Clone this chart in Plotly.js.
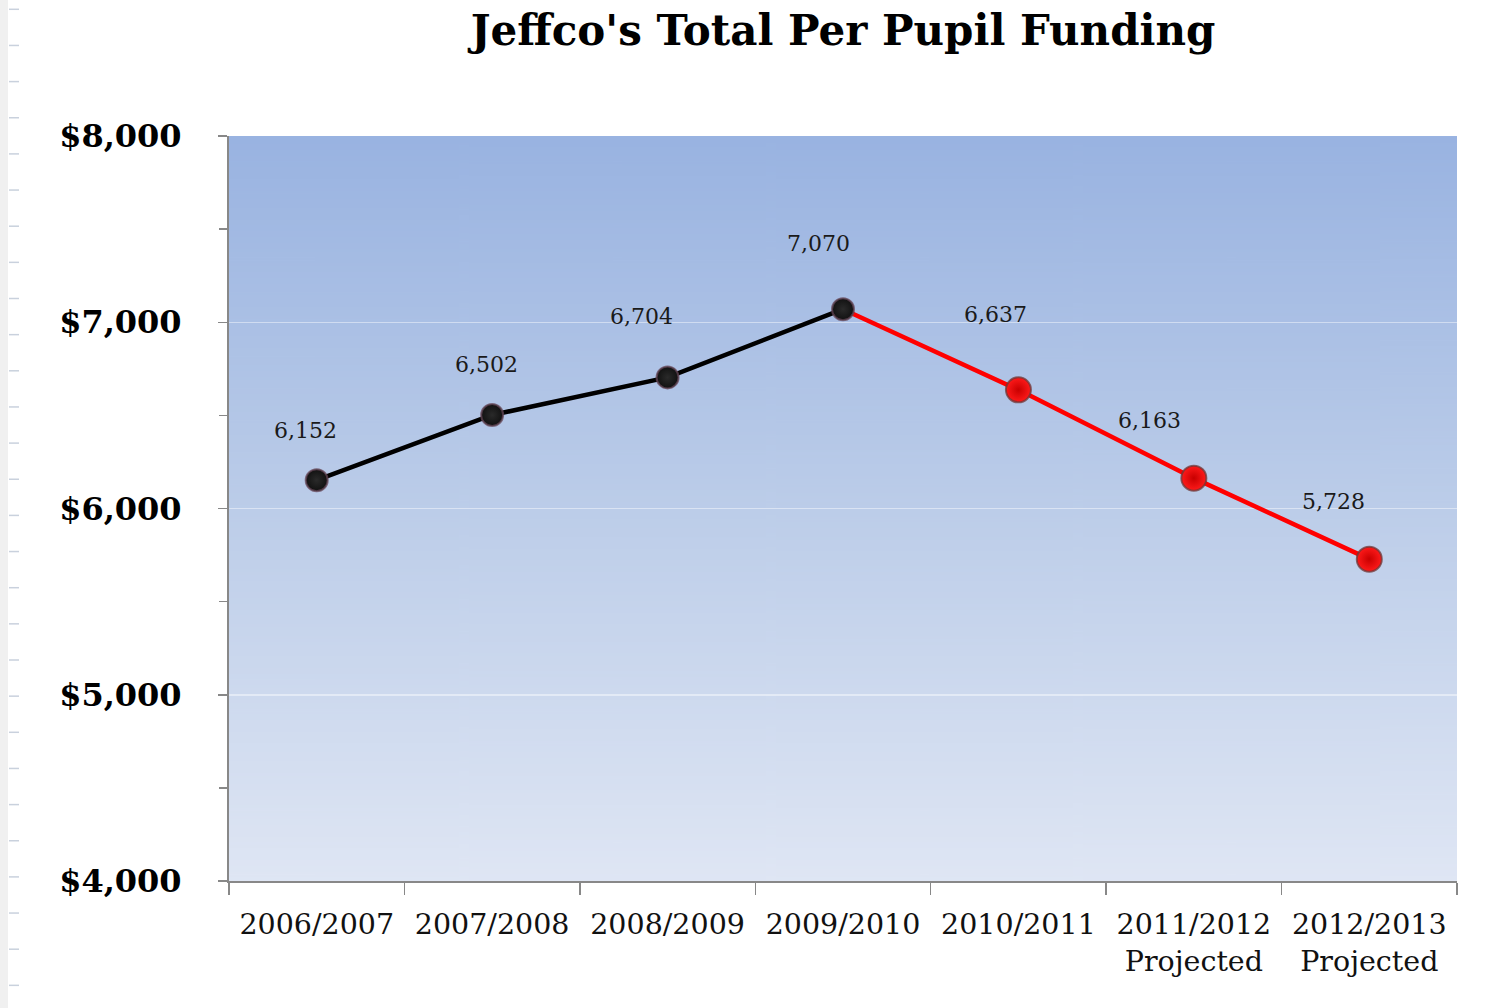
<!DOCTYPE html>
<html>
<head>
<meta charset="utf-8">
<script src="https://cdn.plot.ly/plotly-3.0.1.min.js"></script>
<style>html,body{margin:0;padding:0;background:#fff;}#chart{width:1512px;height:1008px;}</style>
</head>
<body>
<div id="chart"></div>
<script>
// ---- data ----
const categories = ["2006/2007", "2007/2008", "2008/2009", "2009/2010", "2010/2011", "2011/2012<br>Projected", "2012/2013<br>Projected"];
const funding = [6152, 6502, 6704, 7070, 6637, 6163, 5728];
const valueLabels = ["6,152", "6,502", "6,704", "7,070", "6,637", "6,163", "5,728"];
const actualCount = 4;           // first 4 years are actual (black)
const yTickVals = [4000, 5000, 6000, 7000, 8000];
const yTickText = ["$4,000", "$5,000", "$6,000", "$7,000", "$8,000"];

// ---- label placement (style, pixels) ----
const labelDX = [-11, -6, -26, -25, -23, -44, -36];
const labelDY = [50, 51, 61, 66, 75, 58, 58];

// ---- geometry ----
const W = 1512, H = 1008, L = 229, R = 55, T = 136, B = 127;
const PW = W - L - R, PH = H - T - B;

// gradient background image
const cv = document.createElement('canvas');
cv.width = 8; cv.height = 512;
const ctx = cv.getContext('2d');
const g = ctx.createLinearGradient(0, 0, 0, 512);
g.addColorStop(0, '#99b3e1');
g.addColorStop(0.5, '#bccde9');
g.addColorStop(1, '#dfe6f4');
ctx.fillStyle = g; ctx.fillRect(0, 0, 8, 512);
const bgURL = cv.toDataURL('image/png');

const actualX = categories.slice(0, actualCount);
const actualY = funding.slice(0, actualCount);
const projX = categories.slice(actualCount - 1);
const projY = funding.slice(actualCount - 1);

const traces = [
  { x: projX, y: projY, type: 'scatter', mode: 'lines',
    line: { color: '#ff0000', width: 4.5 }, hoverinfo: 'skip', showlegend: false },
  { x: actualX, y: actualY, type: 'scatter', mode: 'lines+markers',
    line: { color: '#000000', width: 4.5 },
    marker: { color: '#111111', size: 22, line: { color: 'rgba(100,70,85,0.75)', width: 2 },
              gradient: { type: 'radial', color: '#2a2a2a' } },
    showlegend: false },
  { x: projX.slice(1), y: projY.slice(1), type: 'scatter', mode: 'markers',
    marker: { color: '#ff1a1a', size: 25, line: { color: 'rgba(110,55,55,0.75)', width: 2 },
              gradient: { type: 'radial', color: '#c80000' } },
    showlegend: false }
];

const annotations = categories.map((c, i) => ({
  x: c, y: funding[i], xref: 'x', yref: 'y', text: valueLabels[i], showarrow: false,
  xshift: labelDX[i], yshift: labelDY[i], xanchor: 'center', yanchor: 'middle',
  font: { family: 'DejaVu Serif', size: 22, color: '#1a1a1a' }
}));

// left spreadsheet strip decoration
const px2x = p => (p - L) / PW;
const py2y = p => (H - B - p) / PH;
const shapes = [
  { type: 'rect', xref: 'paper', yref: 'paper', x0: px2x(0), x1: px2x(8), y0: py2y(1008), y1: py2y(0),
    fillcolor: '#f0f0f0', line: { width: 0 }, layer: 'below' }
];
for (let yy = 9.3; yy < 1000; yy += 36.15) {
  shapes.push({ type: 'line', xref: 'paper', yref: 'paper', x0: px2x(9), x1: px2x(19),
    y0: py2y(yy), y1: py2y(yy), line: { color: '#c9d1dd', width: 1.5 } });
}

const layout = {
  width: W, height: H,
  margin: { l: L, r: R, t: T, b: B },
  paper_bgcolor: '#ffffff', plot_bgcolor: 'rgba(0,0,0,0)',
  title: { text: "Jeffco's Total Per Pupil Funding", x: 0.5, xref: 'paper', xanchor: 'center',
           y: 1 - 30 / H, yref: 'container', yanchor: 'middle',
           font: { family: 'DejaVu Serif', size: 42, weight: 'bold', color: '#000' } },
  images: [{ source: bgURL, xref: 'paper', yref: 'paper', x: 0, y: 1, sizex: 1, sizey: 1,
             sizing: 'stretch', layer: 'below', xanchor: 'left', yanchor: 'top' }],
  xaxis: {
    type: 'category', categoryorder: 'array', categoryarray: categories,
    range: [-0.5, 6.5], tickson: 'boundaries',
    ticks: 'outside', ticklen: 12, tickwidth: 1.5, tickcolor: '#888',
    showline: true, linecolor: '#888', linewidth: 2, showgrid: false, zeroline: false,
    ticklabelstandoff: 17,
    tickfont: { family: 'DejaVu Serif', size: 28.5, color: '#111' }
  },
  yaxis: {
    range: [4000, 8000], tickvals: yTickVals, ticktext: yTickText,
    ticks: 'outside', ticklen: 9, tickwidth: 1.5, tickcolor: '#888',
    minor: { dtick: 500, ticks: 'outside', ticklen: 8, tickwidth: 1.5, tickcolor: '#888', showgrid: false },
    showline: true, linecolor: '#888', linewidth: 2, zeroline: false,
    showgrid: true, gridcolor: 'rgba(255,255,255,0.45)', gridwidth: 1.5,
    ticklabelstandoff: 30,
    tickfont: { family: 'DejaVu Serif', size: 32, weight: 'bold', color: '#000' }
  },
  annotations: annotations,
  shapes: shapes,
  showlegend: false
};

Plotly.newPlot('chart', traces, layout, { displayModeBar: false, staticPlot: true });
</script>
</body>
</html>
